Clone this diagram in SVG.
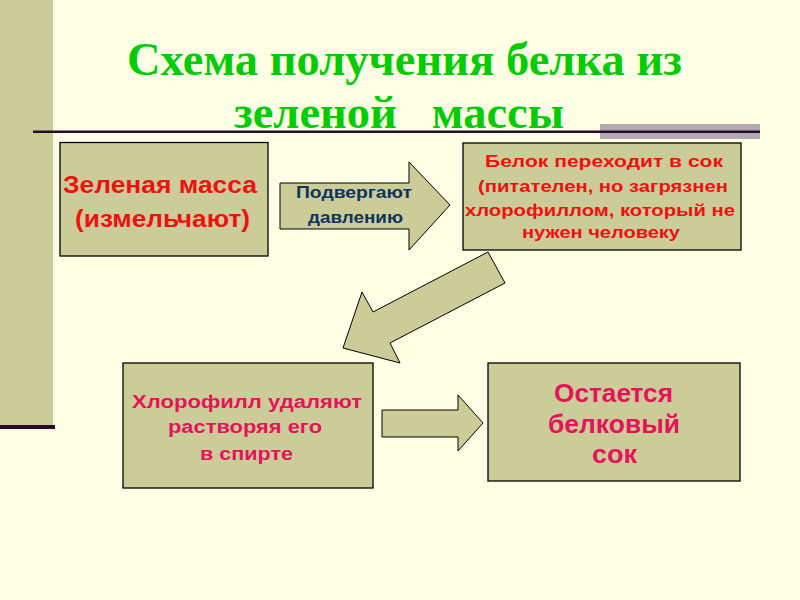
<svg xmlns="http://www.w3.org/2000/svg" width="800" height="600" viewBox="0 0 800 600">
<style>
.box{fill:#CCCC99;stroke:#000;stroke-width:1.3}
.arr{fill:#CCCC99;stroke:#000;stroke-width:1}
.t{font-family:"Liberation Sans",Arial,sans-serif;font-weight:bold;text-anchor:middle}
.red{fill:#F01010}
.pink{fill:#E5135A}
.navy{fill:#0E3461}
.title{font-family:"Liberation Serif","Times New Roman",serif;font-weight:bold;fill:#00CC00;font-size:47px;white-space:pre}
</style>
<rect x="0" y="0" width="800" height="600" fill="#FFFFE6"/>
<g id="decor">
<rect x="0" y="0" width="53" height="426" fill="#CCCC99"/>
<rect x="0" y="425" width="55" height="4" fill="#2A0A2A"/>
<rect x="600" y="124" width="160" height="15" fill="#B3AAB3"/>
<rect x="33" y="130.5" width="727" height="2.5" fill="#2A0A2A"/>
</g>
<g id="title">
<text class="title" x="127" y="75" textLength="555" lengthAdjust="spacingAndGlyphs">Схема получения белка из</text>
<text class="title" x="234" y="128" textLength="330" lengthAdjust="spacingAndGlyphs" xml:space="preserve">зеленой   массы</text>
</g>
<g id="connectors">
<path class="arr" d="M280,183 H409 V162 L450,205 L409,250 V229 H280 Z"/>
<path class="arr" d="M488,252 L505,283 L390,343 L400,363 L343,348 L362,292 L373,312 Z"/>
<path class="arr" d="M382,410 H458 V395 L483,423 L458,451 V437 H382 Z"/>
<text class="t navy" font-size="16" x="354" y="198" textLength="116" lengthAdjust="spacingAndGlyphs">Подвергают</text>
<text class="t navy" font-size="16" x="355.5" y="223" textLength="95" lengthAdjust="spacingAndGlyphs">давлению</text>
</g>
<g id="node1">
<rect class="box" x="60" y="142.5" width="208" height="113.5"/>
<text class="t red" font-size="23" x="160" y="193" textLength="194" lengthAdjust="spacingAndGlyphs">Зеленая масса</text>
<text class="t red" font-size="23" x="162.5" y="227" textLength="175" lengthAdjust="spacingAndGlyphs">(измельчают)</text>
</g>
<g id="node2">
<rect class="box" x="463" y="143" width="278" height="107"/>
<text class="t red" font-size="16.5" x="604" y="167" textLength="238" lengthAdjust="spacingAndGlyphs">Белок переходит в сок</text>
<text class="t red" font-size="16.5" x="603" y="192" textLength="250" lengthAdjust="spacingAndGlyphs">(питателен, но загрязнен</text>
<text class="t red" font-size="16.5" x="600" y="216" textLength="270" lengthAdjust="spacingAndGlyphs">хлорофиллом, который не</text>
<text class="t red" font-size="16.5" x="601" y="238" textLength="158" lengthAdjust="spacingAndGlyphs">нужен человеку</text>
</g>
<g id="node3">
<rect class="box" x="123" y="363" width="250" height="125"/>
<text class="t pink" font-size="17.5" x="247" y="408" textLength="230" lengthAdjust="spacingAndGlyphs">Хлорофилл удаляют</text>
<text class="t pink" font-size="17.5" x="245" y="433" textLength="154" lengthAdjust="spacingAndGlyphs">растворяя его</text>
<text class="t pink" font-size="17.5" x="246.5" y="460" textLength="93" lengthAdjust="spacingAndGlyphs">в спирте</text>
</g>
<g id="node4">
<rect class="box" x="488" y="363" width="252" height="118"/>
<text class="t pink" font-size="25" x="613.5" y="402" textLength="119" lengthAdjust="spacingAndGlyphs">Остается</text>
<text class="t pink" font-size="25" x="614" y="433" textLength="132" lengthAdjust="spacingAndGlyphs">белковый</text>
<text class="t pink" font-size="25" x="614.5" y="463" textLength="45" lengthAdjust="spacingAndGlyphs">сок</text>
</g>
</svg>
